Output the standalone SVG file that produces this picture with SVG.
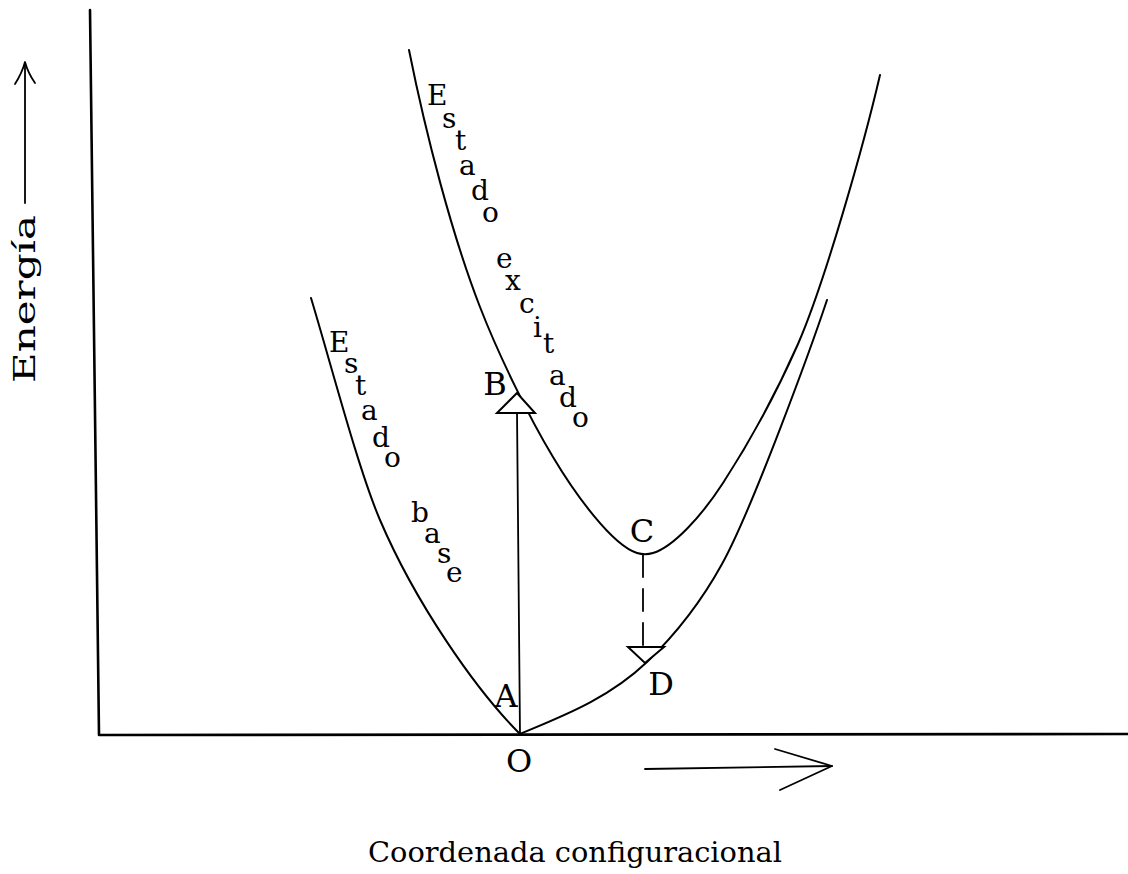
<svg xmlns="http://www.w3.org/2000/svg" width="1128" height="874" viewBox="0 0 1128 874">
<style>
.ln{fill:none;stroke:#000;stroke-linecap:round;stroke-linejoin:round}
.ax{stroke-width:2.6}
.cv{stroke-width:2}
.ar{stroke-width:1.8}
.t{font-family:"DejaVu Serif","Liberation Serif",serif;fill:#000}
.s{font-size:28px}
.L{font-size:32px;text-anchor:middle}
.tri{fill:#fff;stroke:#000;stroke-width:2;stroke-linejoin:miter}
</style>
<rect width="1128" height="874" fill="#fff"/>
<g id="axes">
<path class="ln ax" d="M90,10 L99,735"/>
<path class="ln ax" d="M100,735 L1128,734"/>
</g>
<g id="curve-base">
<path class="ln cv" d="M311,298 C331,364 358,468.5 380,520 C415,602 475,689 520,734"/>
<path class="ln cv" d="M520,734 C560,717 607,700 647,662 C676,634 700,604 722,564 C752,510 812,345 827,300"/>
</g>
<g id="curve-excited">
<path class="ln cv" d="M409,50 C426,135 452,235 480,307 C499,356 530,419 553,457 C575,494 612,545 637,553 C642,554.5 648,554.5 653,553 C673,547 701,517 723,483 C749,443 775,396 798,344 C825,282 864,144 880,75"/>
</g>
<g id="connectors">
<path class="ln ar" d="M520,734 L517,412"/>
<polygon class="tri" points="497,413 535,413 517,393"/>
<path class="ln ar" d="M643,555 L643,647" stroke-dasharray="22 12" stroke-linecap="butt"/>
<polygon class="tri" points="628,647 664,647 645,663"/>
<path class="ln ar" d="M25,203 L25,64"/>
<path class="ln ar" d="M15,84 Q22,73 25,62 Q28,73 35,83"/>
<path class="ln ar" d="M645,769 L832,766"/>
<path class="ln ar" d="M775,749 L832,766 L780,790"/>
</g>
<g id="label-energia">
<text class="t" font-size="30" transform="translate(35,383) rotate(-90)" textLength="168" lengthAdjust="spacingAndGlyphs">Energía</text>
</g>
<g id="label-coordenada">
<text class="t" x="368" y="862" font-size="28.5" textLength="414" lengthAdjust="spacingAndGlyphs">Coordenada configuracional</text>
</g>
<g id="points">
<text class="t L" x="506" y="707">A</text>
<text class="t L" x="495" y="395">B</text>
<text class="t L" x="642" y="542">C</text>
<text class="t L" x="661" y="695">D</text>
<text class="t L" x="519" y="772">O</text>
</g>
<g id="label-estado-base">
<text class="t s"><tspan x="329" y="352">E</tspan><tspan x="344" y="373">s</tspan><tspan x="355" y="395">t</tspan><tspan x="361" y="420">a</tspan><tspan x="372" y="447">d</tspan><tspan x="384" y="467">o</tspan></text>
<text class="t s"><tspan x="411" y="522">b</tspan><tspan x="424" y="543">a</tspan><tspan x="437" y="563">s</tspan><tspan x="446" y="582">e</tspan></text>
</g>
<g id="label-estado-excitado">
<text class="t s"><tspan x="427" y="105">E</tspan><tspan x="442" y="128">s</tspan><tspan x="455" y="150">t</tspan><tspan x="459" y="175">a</tspan><tspan x="471" y="200">d</tspan><tspan x="482" y="222">o</tspan></text>
<text class="t s"><tspan x="496" y="268">e</tspan><tspan x="505" y="290">x</tspan><tspan x="519" y="313">c</tspan><tspan x="533" y="337">i</tspan><tspan x="543" y="353">t</tspan><tspan x="549" y="385">a</tspan><tspan x="559" y="407">d</tspan><tspan x="572" y="427">o</tspan></text>
</g>
</svg>
